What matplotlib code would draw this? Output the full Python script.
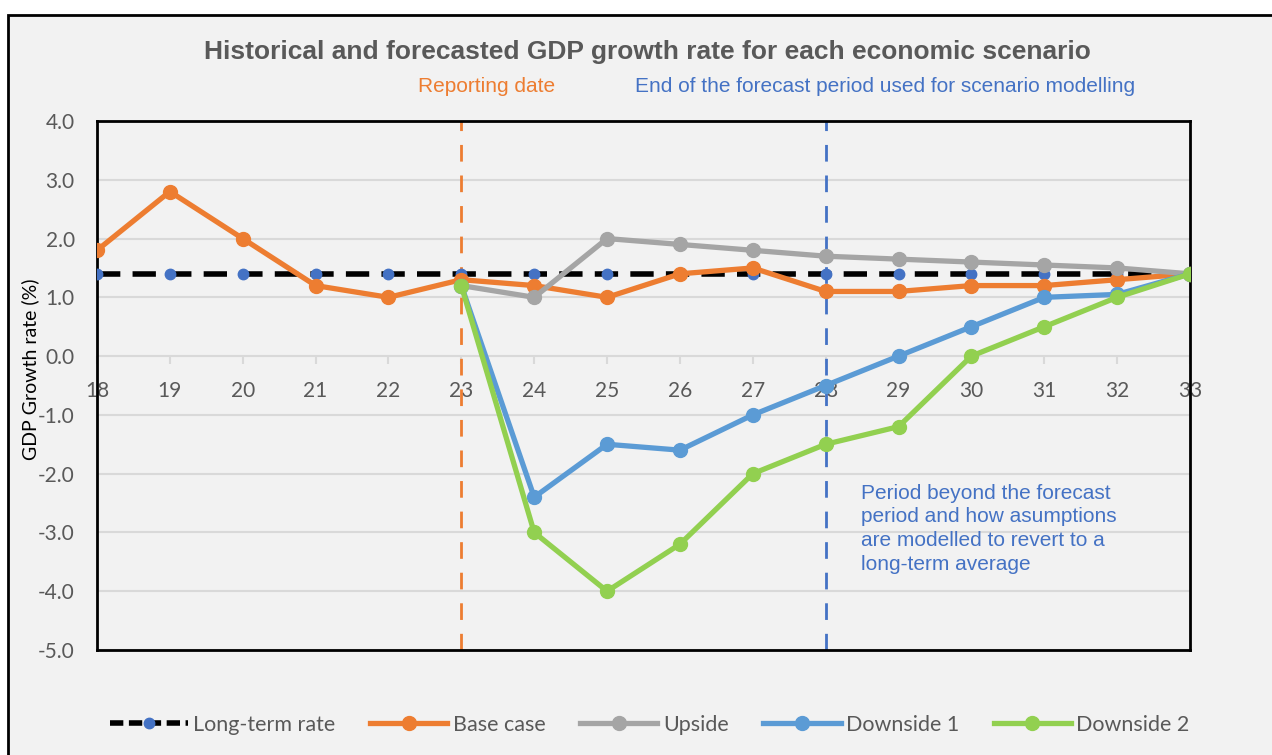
import matplotlib
matplotlib.use("Agg")
import matplotlib.pyplot as plt
from matplotlib.lines import Line2D
from matplotlib.patches import Rectangle

years = [18, 19, 20, 21, 22, 23, 24, 25, 26, 27, 28, 29, 30, 31, 32, 33]
long_term = [1.4] * 16
base_case = [1.8, 2.8, 2.0, 1.2, 1.0, 1.3, 1.2, 1.0, 1.4, 1.5, 1.1, 1.1, 1.2, 1.2, 1.3, 1.4]
fc_years = [23, 24, 25, 26, 27, 28, 29, 30, 31, 32, 33]
upside = [1.2, 1.0, 2.0, 1.9, 1.8, 1.7, 1.65, 1.6, 1.55, 1.5, 1.4]
downside1 = [1.2, -2.4, -1.5, -1.6, -1.0, -0.5, 0.0, 0.5, 1.0, 1.05, 1.4]
downside2 = [1.2, -3.0, -4.0, -3.2, -2.0, -1.5, -1.2, 0.0, 0.5, 1.0, 1.4]
yticks = [4.0, 3.0, 2.0, 1.0, 0.0, -1.0, -2.0, -3.0, -4.0, -5.0]

ORANGE = "#ED7D31"
GRAY = "#A5A5A5"
BLUE = "#5B9BD5"
GREEN = "#92D050"
DBLUE = "#4472C4"
TXT = "#595959"
BG = "#F2F2F2"

W, H = 1272, 755
fig = plt.figure(figsize=(W / 100, H / 100), dpi=100, facecolor="white")
fig.patches.append(Rectangle((8 / W, -0.02), 1.05, (H - 15) / H + 0.02,
                             transform=fig.transFigure, facecolor=BG,
                             edgecolor="black", lw=2, zorder=-10))

ax = fig.add_axes([97 / W, (H - 650) / H, (1190 - 97) / W, (650 - 121) / H])
ax.set_facecolor(BG)
ax.set_xlim(18, 33)
ax.set_ylim(-5, 4)
for s in ax.spines.values():
    s.set_color("black")
    s.set_linewidth(2)
ax.set_yticks(yticks)
ax.set_yticklabels([f"{v:.1f}" for v in yticks], fontsize=15, color=TXT, family="Lato")
ax.tick_params(axis="y", length=0, pad=16)
ax.set_xticks([])
ax.grid(axis="y", color="#D9D9D9", lw=1.5, zorder=0)
ax.set_axisbelow(True)

sec = ax.secondary_xaxis(5 / 9)
sec.set_xticks(years)
sec.set_xticklabels([str(y) for y in years], fontsize=15, color=TXT, family="Lato")
sec.xaxis.set_ticks_position("bottom")
sec.tick_params(axis="x", bottom=True, top=False, labelbottom=True, labeltop=False,
                length=6, width=1.5, color="#D9D9D9", pad=12, direction="out")
sec.spines["bottom"].set_color("#D9D9D9")
sec.spines["bottom"].set_linewidth(1.5)
sec.spines["top"].set_visible(False)

ax.axvline(23, color=ORANGE, lw=2, dashes=(6, 5), zorder=1)
ax.axvline(28, color=DBLUE, lw=2, dashes=(6, 5), zorder=1)

lw = 3.8
ms = 10
ax.plot(years, long_term, color="black", lw=4, dashes=(4.2, 2.2), marker="o",
        markersize=7.5, markerfacecolor=DBLUE, markeredgecolor=DBLUE, zorder=3)
ax.plot(years, base_case, color=ORANGE, lw=lw, marker="o", markersize=ms, zorder=4)
ax.plot(fc_years, upside, color=GRAY, lw=lw, marker="o", markersize=ms, zorder=5)
ax.plot(fc_years, downside1, color=BLUE, lw=lw, marker="o", markersize=ms, zorder=6)
ax.plot(fc_years, downside2, color=GREEN, lw=lw, marker="o", markersize=ms, zorder=7)

fig.text(647 / W, (H - 52) / H, "Historical and forecasted GDP growth rate for each economic scenario",
         ha="center", va="center", fontsize=19, fontweight="bold", color=TXT, family="Liberation Sans")
fig.text(487 / W, (H - 86) / H, "Reporting date", ha="center", va="center",
         fontsize=15, color=ORANGE, family="Liberation Sans")
fig.text(885 / W, (H - 86) / H, "End of the forecast period used for scenario modelling",
         ha="center", va="center", fontsize=15, color=DBLUE, family="Liberation Sans")
fig.text(861 / W, (H - 484) / H,
         "Period beyond the forecast\nperiod and how asumptions\nare modelled to revert to a\nlong-term average",
         ha="left", va="top", fontsize=15, color=DBLUE, family="Liberation Sans", linespacing=1.3)
fig.text(30 / W, (H - 369) / H, "GDP Growth rate (%)", rotation=90, ha="center", va="center",
         fontsize=14, color="black", family="Lato")

handles = [
    Line2D([], [], color="black", lw=4, dashes=(2.4, 1.0), marker="o", markersize=7.5,
           markerfacecolor=DBLUE, markeredgecolor=DBLUE),
    Line2D([], [], color=ORANGE, lw=lw, marker="o", markersize=ms),
    Line2D([], [], color=GRAY, lw=lw, marker="o", markersize=ms),
    Line2D([], [], color=BLUE, lw=lw, marker="o", markersize=ms),
    Line2D([], [], color=GREEN, lw=lw, marker="o", markersize=ms),
]
labels = ["Long-term rate", "Base case", "Upside", "Downside 1", "Downside 2"]
leg = fig.legend(handles, labels, loc="center", bbox_to_anchor=(650 / W, 30 / H), ncol=5,
                 frameon=False, handlelength=3.6, handletextpad=0.25, columnspacing=1.6,
                 prop={"family": "Lato", "size": 15.5})
for t in leg.get_texts():
    t.set_color(TXT)

fig.savefig("out.png", dpi=100, facecolor="white")
